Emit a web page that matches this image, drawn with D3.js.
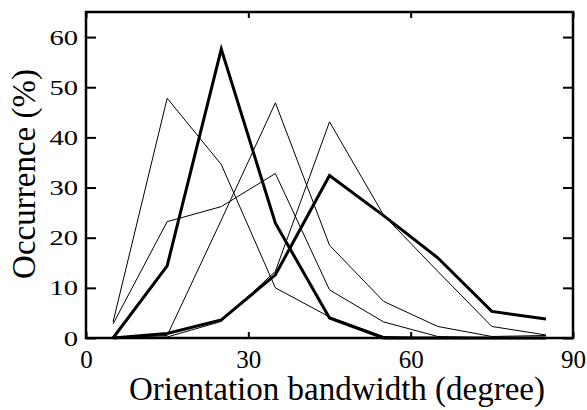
<!DOCTYPE html>
<html>
<head>
<meta charset="utf-8">
<script src="https://cdn.jsdelivr.net/npm/d3@7"></script>
<style>
  body { margin: 0; background: #fff; }
  svg text { font-family: "Liberation Serif", "Times New Roman", serif !important; fill: #000; }
</style>
</head>
<body>
<script>
// bin centres (degree)
const bins = [5, 15, 25, 35, 45, 55, 65, 75, 85];

// occurrence (%) per bin
const thickNarrow = [0, 14.4, 57.6, 22.9, 4.0, 0, 0, 0, 0];
const thickBroad  = [0, 0.9, 3.6, 12.6, 32.4, 24.4, 16.0, 5.3, 3.8];
const thinA = [3.2, 47.8, 34.6, 10.0, 4.2, 0.3, 0, 0, 0];
const thinB = [2.8, 23.2, 26.2, 32.8, 9.6, 3.2, 0.3, 0, 0];
const thinC = [0, 0.5, 23.5, 46.9, 18.5, 7.3, 2.3, 0.3, 0.5];
const thinD = [0, 0.2, 3.3, 13.3, 43.1, 24.5, 13.3, 2.3, 0.6];

const xTicks = [0, 30, 60, 90];
const yTicks = [0, 10, 20, 30, 40, 50, 60];

const width = 587;
const height = 410;
const margin = {top: 12, right: 14, bottom: 72, left: 86};
const w = width - margin.left - margin.right;
const h = height - margin.top - margin.bottom;

const svg = d3.select("body").append("svg")
    .attr("width", width)
    .attr("height", height);

const g = svg.append("g")
    .attr("transform", `translate(${margin.left}, ${margin.top})`);

const xscale = d3.scaleLinear().domain([0, 90]).range([0, w]);
const yscale = d3.scaleLinear().domain([0, 65]).range([h, 0]);

// axes, ticks pointing inwards
const yAxis = g.append("g")
    .call(d3.axisLeft(yscale).tickValues(yTicks).tickSize(-10).tickSizeOuter(0).tickPadding(8));
g.append("g")
    .attr("transform", `translate(${w}, 0)`)
    .call(d3.axisRight(yscale).tickValues(yTicks).tickSize(-10).tickSizeOuter(0).tickFormat(""));
const xAxis = g.append("g")
    .attr("transform", `translate(0, ${h})`)
    .call(d3.axisBottom(xscale).tickValues(xTicks).tickSize(-6).tickSizeOuter(0).tickPadding(12));
g.append("g")
    .call(d3.axisTop(xscale).tickValues(xTicks).tickSize(-6).tickSizeOuter(0).tickFormat(""));

g.selectAll(".domain").remove();
g.selectAll(".tick line").attr("stroke", "#000").attr("stroke-width", 2);

yAxis.selectAll("text")
    .style("font-size", "22px")
    .attr("transform", "translate(-8,0) scale(1.3,1) translate(8,0)");
xAxis.selectAll("text")
    .style("font-size", "25px");

// series lines
const line = d3.line()
    .x((d, i) => xscale(bins[i]))
    .y(d => yscale(d));

const series = [
    {v: thinA, sw: 1},
    {v: thinB, sw: 1},
    {v: thinC, sw: 1},
    {v: thinD, sw: 1},
    {v: thickBroad, sw: 3},
    {v: thickNarrow, sw: 3}
];

g.selectAll("path.series")
    .data(series)
    .enter()
    .append("path")
    .attr("class", "series")
    .attr("d", d => line(d.v))
    .attr("fill", "none")
    .attr("stroke", "#000")
    .attr("stroke-width", d => d.sw)
    .attr("stroke-linejoin", "miter");

// frame
g.append("rect")
    .attr("width", w)
    .attr("height", h)
    .attr("fill", "none")
    .attr("stroke", "#000")
    .attr("stroke-width", 2.5);

// axis titles
svg.append("text")
    .attr("x", 337)
    .attr("y", 400)
    .attr("text-anchor", "middle")
    .style("font-size", "33px")
    .text("Orientation bandwidth (degree)");

svg.append("text")
    .attr("transform", "translate(35, 174) rotate(-90)")
    .attr("text-anchor", "middle")
    .style("font-size", "33px")
    .text("Occurrence (%)");
</script>
</body>
</html>
